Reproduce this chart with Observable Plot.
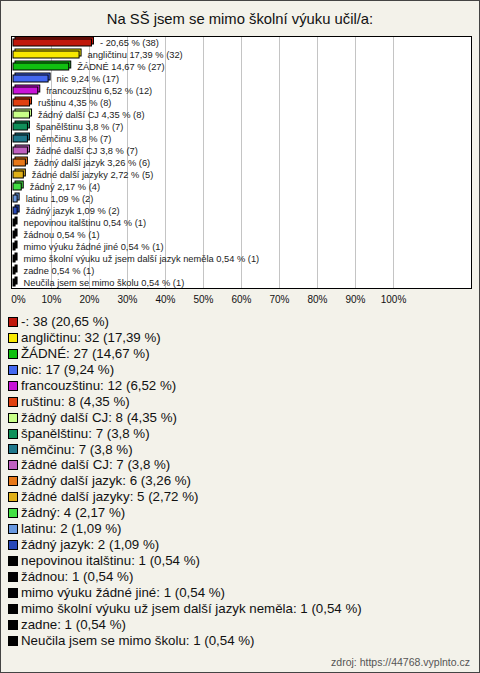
<!DOCTYPE html>
<html>
<head>
<meta charset="utf-8">
<script src="https://cdn.jsdelivr.net/npm/d3@7"></script>
<script src="https://cdn.jsdelivr.net/npm/@observablehq/plot@0.6"></script>
<style>
  html, body { margin: 0; padding: 0; background: #fff; }
  #wrap { position: relative; width: 480px; height: 673px; box-sizing: border-box;
          border: 1px solid #444; background: #f3f2ea; font-family: "Liberation Sans", Arial, sans-serif; overflow: hidden; }
  #chart { position: absolute; top: -1px; left: -1px; width: 480px; height: 310px; }
  #chart svg { display: block; }
  #title { position: absolute; top: 10px; left: 0; width: 478px; text-align: center; font-size: 14.8px; color: #111; z-index: 2; }
  #legend { position: absolute; top: 313px; left: 7px; font-size: 13.3px; color: #111; }
  .li { height: 15.95px; line-height: 15.95px; white-space: nowrap; display: flex; align-items: center; }
  .sw { width: 8px; height: 8px; border: 1px solid #000; margin-right: 3px; flex: none; }
  #src { position: absolute; right: 9px; top: 655px; font-size: 10.5px; color: #555; }
</style>
</head>
<body>
<div id="wrap">
  <div id="chart"></div>
  <div id="title">Na SŠ jsem se mimo školní výuku učil/a:</div>
  <div id="legend"></div>
  <div id="src">zdroj: https://44768.vyplnto.cz</div>
</div>
<script>
const categories = ["-", "angličtinu", "ŽÁDNÉ", "nic", "francouzštinu", "ruštinu", "žádný další CJ", "španělštinu", "němčinu", "žádné další CJ", "žádný další jazyk", "žádné další jazyky", "žádný", "latinu", "žádný jazyk", "nepovinou italštinu", "žádnou", "mimo výuku žádné jiné", "mimo školní výuku už jsem další jazyk neměla", "zadne", "Neučila jsem se mimo školu"];
const counts = [38, 32, 27, 17, 12, 8, 8, 7, 7, 7, 6, 5, 4, 2, 2, 1, 1, 1, 1, 1, 1];
const percents = [20.65, 17.39, 14.67, 9.24, 6.52, 4.35, 4.35, 3.8, 3.8, 3.8, 3.26, 2.72, 2.17, 1.09, 1.09, 0.54, 0.54, 0.54, 0.54, 0.54, 0.54];
const percentLabels = ["20,65", "17,39", "14,67", "9,24", "6,52", "4,35", "4,35", "3,8", "3,8", "3,8", "3,26", "2,72", "2,17", "1,09", "1,09", "0,54", "0,54", "0,54", "0,54", "0,54", "0,54"];
const colors = ["#c0180c", "#f8e800", "#10c010", "#4468f0", "#c814d8", "#e04010", "#c8ff88", "#10905a", "#20788c", "#c060c0", "#e87818", "#e0b018", "#44e044", "#6898e0", "#2848b8", "#000000", "#000000", "#000000", "#000000", "#000000", "#000000"];
const xTicks = [0, 10, 20, 30, 40, 50, 60, 70, 80, 90, 100];

const data = categories.map((c, i) => ({
  label: c, count: counts[i], pct: percents[i], pctLabel: percentLabels[i], color: colors[i]
}));

const chart = Plot.plot({
  width: 480,
  height: 310,
  marginLeft: 11,
  marginRight: 9,
  marginTop: 36,
  marginBottom: 22,
  style: { background: "transparent", fontFamily: "'Liberation Sans', Arial, sans-serif", color: "#111" },
  x: { domain: [0, 100], range: [13, 393] },
  y: { domain: categories, paddingInner: 0.45, paddingOuter: 0.12, axis: null },
  color: { type: "identity" },
  marks: [
    Plot.frame({ fill: "white", stroke: null }),
    Plot.gridX(xTicks.slice(1), { stroke: "#c4c4c4", strokeOpacity: 1 }),
    Plot.barX(data, { x: "pct", y: "label", fill: "color", stroke: "black", strokeWidth: 1, dx: 2, dy: -2 }),
    Plot.barX(data, { x: "pct", y: "label", fill: "color", stroke: "black", strokeWidth: 1 }),
    Plot.text(data, { x: "pct", y: "label", text: d => `${d.label} ${d.pctLabel} % (${d.count})`, dx: 8, textAnchor: "start", fontSize: 9.3, fill: "#222" }),
    Plot.axisX({ ticks: xTicks.slice(0, 1), tickFormat: d => d + "%", tickSize: 0, tickPadding: 7, fontSize: 10, label: null, dx: 5 }),
    Plot.axisX({ ticks: xTicks.slice(1), tickFormat: d => d + "%", tickSize: 0, tickPadding: 7, fontSize: 10, label: null }),
    Plot.frame({ stroke: "black", strokeWidth: 1 })
  ]
});
document.getElementById("chart").appendChild(chart);

const legend = document.getElementById("legend");
data.forEach(d => {
  const row = document.createElement("div");
  row.className = "li";
  const sw = document.createElement("span");
  sw.className = "sw";
  sw.style.background = d.color;
  const t = document.createElement("span");
  t.textContent = `${d.label}: ${d.count} (${d.pctLabel} %)`;
  row.appendChild(sw);
  row.appendChild(t);
  legend.appendChild(row);
});
</script>
</body>
</html>
